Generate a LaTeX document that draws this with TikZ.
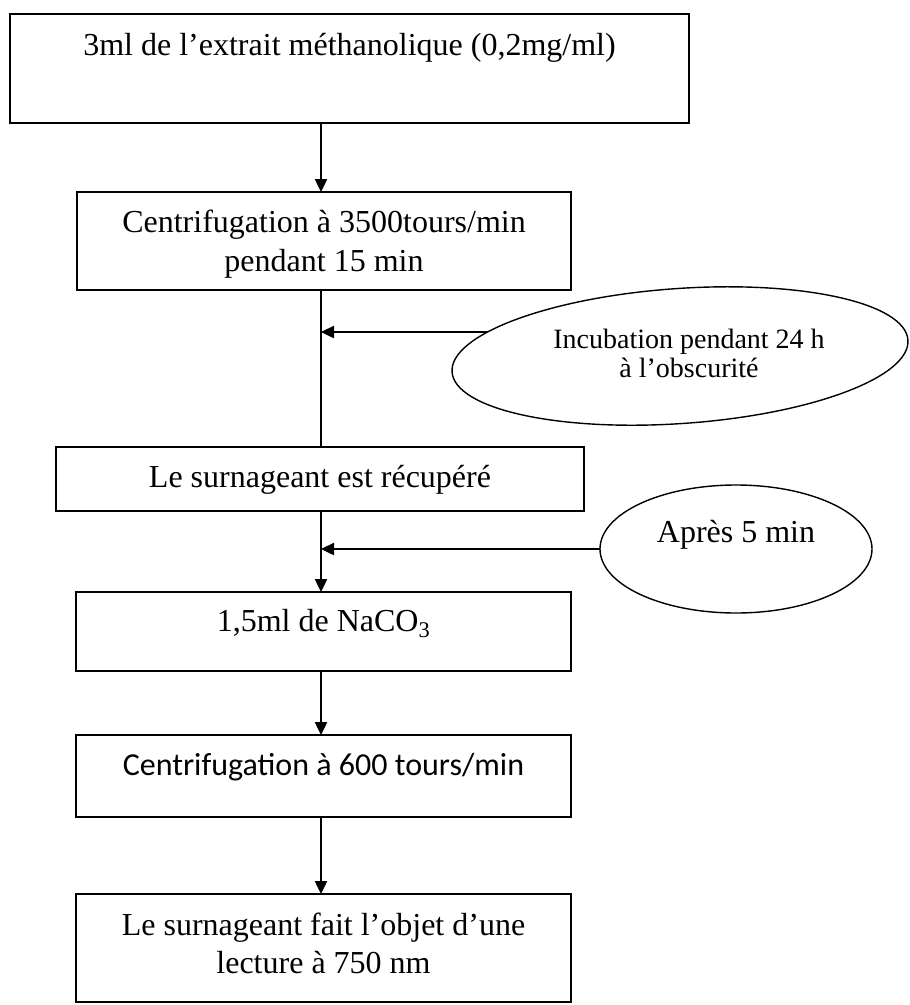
\documentclass[tikz,border=0pt]{standalone}
\usepackage{fontspec}
\setmainfont{Liberation Serif}
\newfontfamily\calibrifont{Carlito}
\usetikzlibrary{shapes.geometric,arrows.meta,backgrounds}

\begin{document}
\begin{tikzpicture}[x=1pt,y=-1pt,
  every node/.style={inner sep=0pt, outer sep=0pt},
  stepbox/.style={draw, rectangle, line width=1.8pt, fill=white},
  txt/.style={font=\fontsize{32}{39}\selectfont},
  oval/.style={draw, ellipse, line width=1.4pt, fill=white},
  flow/.style={line width=2.4pt, -{Triangle[length=13pt,width=12pt]}},
  plain/.style={line width=2.4pt}]

\useasboundingbox (0,0) rectangle (910,1005);

% vertical axis of the flow
\coordinate (axis) at (321,0);

% process steps
\node[stepbox, line width=1.3pt, minimum width=679pt, text height=41pt, text depth=68pt, txt]
  (b1) at (349.5,68.5) {3ml de l’extrait méthanolique (0,2mg/ml)};
\node[stepbox, minimum width=494pt, text height=40pt, text depth=58pt, txt]
  (b2) at (324,241) {\begin{tabular}[t]{@{}c@{}}Centrifugation à 3500tours/min\\pendant 15 min\end{tabular}};
\node[stepbox, minimum width=528pt, text height=40pt, text depth=24pt, txt]
  (b3) at (320,479) {Le surnageant est récupéré};
\node[stepbox, minimum width=495pt, text height=39pt, text depth=40pt, txt]
  (b4) at (323.5,631.5) {1,5ml de NaCO\textsubscript{3}};
\node[stepbox, minimum width=495pt, text height=40pt, text depth=42pt, font=\calibrifont\fontsize{32}{39}\selectfont]
  (b5) at (323.5,776) {Centrifugation à 600 tours/min};
\node[stepbox, minimum width=495pt, text height=41pt, text depth=67pt, font=\fontsize{32}{38}\selectfont]
  (b6) at (323.5,948) {\begin{tabular}[t]{@{}c@{}}Le surnageant fait l’objet d’une\\lecture à 750 nm\end{tabular}};

% side conditions
\node[oval, minimum width=457pt, minimum height=135pt, rotate=4] (e1) at (680,356) {};
\node[anchor=base, font=\fontsize{28}{29}\selectfont] (t1) at (689,348)
  {\begin{tabular}[t]{@{}c@{}}Incubation pendant 24 h\\à l’obscurité\end{tabular}};
\node[oval, minimum width=272pt, minimum height=128pt, text height=24pt, text depth=38pt, txt]
  (e2) at (736,549) {Après 5 min};

% connectors
\coordinate (j1) at (321,332);
\draw[flow] (b1.south -| axis) -- (b2.north -| axis);
\draw[plain] (b2.south -| axis) -- (b3.north -| axis);
\begin{scope}[on background layer]
  \draw[flow] (e1.center |- j1) -- (j1);
\end{scope}
\draw[flow] (b3.south -| axis) -- (b4.north -| axis);
\draw[flow] (e2.west) -- (e2.west -| axis);
\draw[flow] (b4.south -| axis) -- (b5.north -| axis);
\draw[flow] (b5.south -| axis) -- (b6.north -| axis);
\end{tikzpicture}
\end{document}
